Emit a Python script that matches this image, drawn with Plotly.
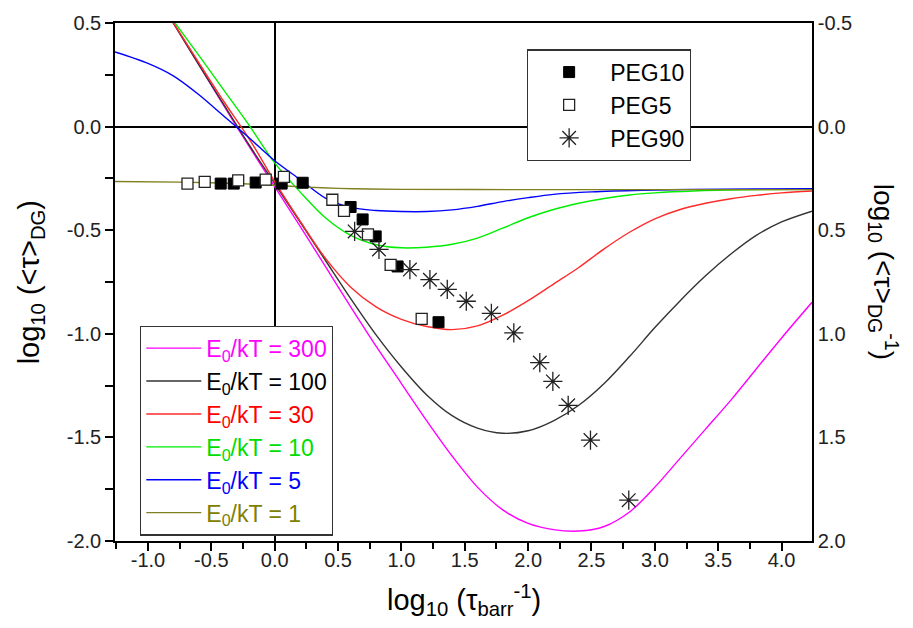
import plotly.graph_objects as go

FONT = "Liberation Sans, Arial, sans-serif"

# Model curves: log10(<tau>_DG) against log10(1/tau_barr) for several barrier heights
x_e300 = [-0.85, -0.6, -0.3, 0.0, 0.2, 0.4, 0.6, 0.8, 1.0, 1.2, 1.4, 1.6, 1.8, 2.0, 2.2,
          2.4, 2.6, 2.8, 3.0, 3.2, 3.4, 3.6, 3.8, 4.0, 4.24]
y_e300 = [0.55, 0.30, 0.0, -0.29, -0.48, -0.675, -0.87, -1.06, -1.24, -1.42, -1.59, -1.74,
          -1.85, -1.915, -1.945, -1.952, -1.93, -1.86, -1.74, -1.60, -1.46, -1.32, -1.17,
          -1.02, -0.848]

x_e100 = [-0.85, -0.6, -0.4, -0.2, 0.0, 0.2, 0.4, 0.6, 0.8, 1.0, 1.2, 1.4, 1.6, 1.8, 2.0,
          2.2, 2.4, 2.6, 2.8, 3.0, 3.2, 3.4, 3.6, 3.8, 4.0, 4.24]
y_e100 = [0.55, 0.30, 0.105, -0.09, -0.275, -0.46, -0.645, -0.83, -1.005, -1.16, -1.295,
          -1.395, -1.455, -1.48, -1.468, -1.42, -1.345, -1.24, -1.11, -0.97, -0.84, -0.72,
          -0.615, -0.525, -0.46, -0.408]

x_e30 = [-0.85, -0.6, -0.4, -0.2, 0.0, 0.2, 0.4, 0.6, 0.8, 1.0, 1.2, 1.4, 1.6, 1.8, 2.0,
         2.2, 2.4, 2.6, 2.8, 3.0, 3.2, 3.4, 3.6, 3.8, 4.0, 4.24]
y_e30 = [0.55, 0.31, 0.12, -0.06, -0.265, -0.455, -0.635, -0.775, -0.87, -0.93, -0.965,
         -0.98, -0.962, -0.91, -0.84, -0.76, -0.68, -0.59, -0.51, -0.445, -0.40, -0.37,
         -0.348, -0.332, -0.32, -0.311]

x_e10 = [-0.84, -0.6, -0.4, -0.2, 0.0, 0.2, 0.4, 0.6, 0.8, 1.0, 1.2, 1.4, 1.6, 1.8, 2.0,
         2.2, 2.4, 2.6, 2.8, 3.0, 3.3, 3.7, 4.24]
y_e10 = [0.545, 0.345, 0.175, 0.005, -0.175, -0.315, -0.44, -0.525, -0.57, -0.585, -0.582,
         -0.568, -0.538, -0.49, -0.44, -0.40, -0.37, -0.347, -0.33, -0.32, -0.311, -0.305, -0.303]

x_e5 = [-1.26, -1.0, -0.8, -0.6, -0.4, -0.2, 0.0, 0.2, 0.4, 0.6, 0.8, 1.0, 1.2, 1.4, 1.6,
        1.8, 2.0, 2.2, 2.5, 2.9, 3.3, 3.8, 4.24]
y_e5 = [0.36, 0.305, 0.245, 0.155, 0.05, -0.055, -0.165, -0.255, -0.345, -0.39, -0.405, -0.41,
        -0.41, -0.402, -0.385, -0.362, -0.343, -0.327, -0.315, -0.307, -0.303, -0.301, -0.300]

x_e1 = [-1.26, -0.75, -0.5, -0.25, 0.0, 0.25, 0.5, 0.75, 1.0, 2.0, 3.0, 4.24]
y_e1 = [-0.265, -0.268, -0.271, -0.276, -0.283, -0.292, -0.298, -0.301, -0.303, -0.304, -0.304, -0.304]

# Measured points
peg10_x = [-0.426, -0.323, -0.150, 0.055, 0.221, 0.599, 0.694, 0.797, 0.970, 1.293]
peg10_y = [-0.275, -0.275, -0.270, -0.275, -0.271, -0.388, -0.448, -0.530, -0.675, -0.944]
peg5_x = [-0.688, -0.552, -0.288, -0.071, 0.073, 0.455, 0.547, 0.736, 0.915, 1.160]
peg5_y = [-0.275, -0.267, -0.260, -0.256, -0.243, -0.353, -0.407, -0.520, -0.667, -0.928]
peg90_x = [0.631, 0.823, 1.067, 1.225, 1.362, 1.512, 1.710, 1.887, 2.092, 2.195, 2.316, 2.492, 2.794]
peg90_y = [-0.506, -0.593, -0.690, -0.739, -0.786, -0.843, -0.901, -0.996, -1.139, -1.230,
           -1.345, -1.513, -1.803]

# Axis ticks
x_ticks = [-1.0, -0.5, 0.0, 0.5, 1.0, 1.5, 2.0, 2.5, 3.0, 3.5, 4.0]
y_ticks = [0.5, 0.0, -0.5, -1.0, -1.5, -2.0]
y2_ticks = [-0.5, 0.0, 0.5, 1.0, 1.5, 2.0]

curves = [
    ("300", "#ff00ff", x_e300, y_e300),
    ("100", "#333333", x_e100, y_e100),
    ("30", "#ff2a2a", x_e30, y_e30),
    ("10", "#00ee00", x_e10, y_e10),
    ("5", "#0000ff", x_e5, y_e5),
    ("1", "#808020", x_e1, y_e1),
]
label_colors = {"300": "#ff00ff", "100": "#000000", "30": "#ff0000",
                "10": "#00dd00", "5": "#0000ff", "1": "#808000"}

fig = go.Figure()

for label, color, xs, ys in curves:
    fig.add_trace(go.Scatter(
        x=xs, y=ys, mode="lines",
        line=dict(color=color, width=1.4, shape="spline", smoothing=0.9),
        name=f'<span style="color:{label_colors[label]}">E<sub>0</sub>/kT = {label}</span>',
        legend="legend2",
    ))

fig.add_trace(go.Scatter(
    x=peg10_x, y=peg10_y, mode="markers", name="PEG10",
    marker=dict(symbol="square", size=11, color="black", line=dict(color="black", width=1)),
))
fig.add_trace(go.Scatter(
    x=peg5_x, y=peg5_y, mode="markers", name="PEG5",
    marker=dict(symbol="square", size=11, color="white", line=dict(color="#222222", width=1.3)),
))
fig.add_trace(go.Scatter(
    x=peg90_x, y=peg90_y, mode="markers", name="PEG90",
    marker=dict(symbol="asterisk-open", size=16, color="#222222", line=dict(color="#222222", width=1.3)),
))

# empty trace so the reciprocal scale on the right is laid out
fig.add_trace(go.Scatter(x=[None], y=[None], yaxis="y2", mode="markers",
                         showlegend=False, hoverinfo="skip"))

tick_font = dict(family=FONT, size=20, color="#222222")

fig.update_layout(
    width=913, height=628,
    margin=dict(l=115, r=101, t=23, b=87),
    paper_bgcolor="white", plot_bgcolor="white",
    font=dict(family=FONT, color="black"),
    xaxis=dict(
        range=[-1.26, 4.24], showgrid=False,
        tickmode="array", tickvals=x_ticks, ticktext=[f"{v:.1f}" for v in x_ticks],
        ticks="outside", ticklen=8, tickwidth=1.5, tickcolor="black",
        ticklabelstandoff=-8,
        minor=dict(tickmode="linear", tick0=0, dtick=0.25, ticks="outside",
                   ticklen=6, tickwidth=1.5, tickcolor="black"),
        showline=True, linecolor="black", linewidth=1.5, mirror=True,
        zeroline=True, zerolinecolor="black", zerolinewidth=1.5,
        tickfont=tick_font,
    ),
    yaxis=dict(
        range=[-2.0, 0.5], showgrid=False,
        tickmode="array", tickvals=y_ticks, ticktext=[f"{v:.1f}" for v in y_ticks],
        ticks="outside", ticklen=8, tickwidth=1.5, tickcolor="black",
        minor=dict(tickmode="linear", tick0=0, dtick=0.25, ticks="outside",
                   ticklen=8, tickwidth=1.5, tickcolor="black"),
        showline=True, linecolor="black", linewidth=1.5,
        zeroline=True, zerolinecolor="black", zerolinewidth=1.5,
        tickfont=tick_font,
    ),
    yaxis2=dict(
        overlaying="y", side="right", anchor="x",
        range=[2.0, -0.5], showgrid=False, zeroline=False,
        tickmode="array", tickvals=y2_ticks, ticktext=[f"{v:.1f}" for v in y2_ticks],
        ticks="", showline=True, linecolor="black", linewidth=1.5,
        tickfont=tick_font,
    ),
    legend=dict(
        x=0.591, y=0.949, xanchor="left", yanchor="top",
        bgcolor="white", bordercolor="#333333", borderwidth=1.2,
        itemwidth=72,
        font=dict(family=FONT, size=23, color="black"),
    ),
    legend2=dict(
        x=0.036, y=0.416, xanchor="left", yanchor="top",
        bgcolor="white", bordercolor="#333333", borderwidth=1.2,
        itemwidth=55,
        font=dict(family=FONT, size=23, color="black"),
    ),
    annotations=[
        dict(text="log<sub>10</sub> (&lt;τ&gt;<sub>DG</sub>)", textangle=-90,
             xref="paper", yref="paper", x=-0.12, y=0.5, xanchor="center", yanchor="middle",
             showarrow=False, font=dict(family=FONT, size=29, color="black")),
        dict(text="log<sub>10</sub> (τ<sub>barr</sub><sup>-1</sup>)",
             xref="paper", yref="paper", x=0.5, y=-0.113, xanchor="center", yanchor="middle",
             showarrow=False, font=dict(family=FONT, size=29, color="black")),
        dict(text="log<sub>10</sub> (&lt;τ&gt;<sub>DG</sub><sup>-1</sup>)", textangle=90,
             xref="paper", yref="paper", x=1.103, y=0.52, xanchor="center", yanchor="middle",
             showarrow=False, font=dict(family=FONT, size=28, color="black")),
    ],
)

fig.write_html("out.html")
